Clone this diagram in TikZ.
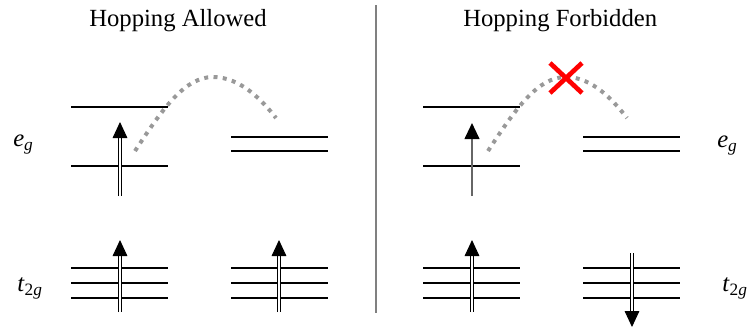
\documentclass[tikz,border=0pt]{standalone}
\usepackage{fontspec}
\setmainfont{Liberation Serif}
\usepackage{tikz}
\usetikzlibrary{
  arrows.meta,%
  calc,%
  positioning
}
\definecolor{hopgray}{gray}{0.6}
\definecolor{divgray}{gray}{0.5}
\tikzset{>=latex}
\tikzset{level/.style={line width=1.5pt}}
\tikzset{spin/.style={double, double distance=1.6pt, line width=0.75pt,
    -{Triangle[width=11pt,length=12pt]}}}
\tikzset{hop/.style={hopgray, line width=3pt, dash pattern=on 3pt off 4pt}}
\tikzset{lbl/.style={inner sep=0pt, font=\fontsize{18.5}{22}\selectfont}}
\newcommand{\subsc}[1]{\raisebox{-3pt}{\fontsize{13}{13}\selectfont #1}}

\begin{document}
\begin{tikzpicture}[x=0.75pt, y=-0.75pt]
  \useasboundingbox (0,0) rectangle (749,330);
  % titles and divider
  \node[lbl, anchor=base east] (tl) at (267,26) {Hopping Allowed};
  \node[lbl, anchor=base west] (tr) at (463,26) {Hopping Forbidden};
  \draw[divgray, line width=1.2pt] (376,5) coordinate (dtop) -- (376,313) coordinate (dbot);
  % labels
  \node[lbl, anchor=base west] (egl) at (13,146) {\textit{e}\subsc{\textit{g}}};
  \node[lbl, anchor=base west] (tgl) at (17,291) {\textit{t}\subsc{2\textit{g}}};
  \node[lbl, anchor=base west] (egr) at (717,147) {\textit{e}\subsc{\textit{g}}};
  \node[lbl, anchor=base west] (tgr) at (722,291) {\textit{t}\subsc{2\textit{g}}};

  % left panel
  \draw[level] (71,107) -- (168,107);
  \draw[level] (71,166) -- (168,166);
  \draw[level] (231,137) -- (328,137);
  \draw[level] (231,151) -- (328,151);
  \foreach \y in {268,283,298}{
    \draw[level] (71,\y) -- (168,\y);
    \draw[level] (231,\y) -- (328,\y);
  }
  \draw[hop] (135,151) coordinate (hs) .. controls (163,108) and (185,77) .. (213,77) coordinate (hp)
    .. controls (240,77) and (262,100) .. (276,118) coordinate (he);
  \draw[spin] (120,196) coordinate (s1) -- (120,122) coordinate (s1t);
  \draw[spin] (120,312) coordinate (s2) -- (120,240) coordinate (s2t);
  \draw[spin] (279,312) coordinate (s3) -- (279,240) coordinate (s3t);

  % right panel
  \begin{scope}[shift={(352,0)}]
    \draw[level] (71,107) -- (168,107);
    \draw[level] (71,166) -- (168,166);
    \draw[level] (231,137) -- (328,137);
    \draw[level] (231,151) -- (328,151);
    \foreach \y in {268,283,298}{
      \draw[level] (71,\y) -- (168,\y);
      \draw[level] (231,\y) -- (328,\y);
    }
    \draw[hop] (136,151) coordinate (ks) .. controls (164,108) and (186,77) .. (214,77) coordinate (kp)
      .. controls (240,77) and (261,100) .. (275,118) coordinate (ke);
    \draw[red, line width=3.5pt] ($(kp)+(-16,-14)$) -- ($(kp)+(16,16)$);
    \draw[red, line width=3.5pt] ($(kp)+(16,-14)$) -- ($(kp)+(-16,16)$);
    \draw[black!60, line width=1.5pt, -{Triangle[width=11pt,length=12pt,color=black]}]
      (120,196) coordinate (k1) -- (120,123) coordinate (k1t);
    \draw[spin] (120,312) coordinate (k2) -- (120,240) coordinate (k2t);
    \draw[spin] (280,253) coordinate (k3) -- (280,327) coordinate (k3t);
  \end{scope}
\end{tikzpicture}
\end{document}
